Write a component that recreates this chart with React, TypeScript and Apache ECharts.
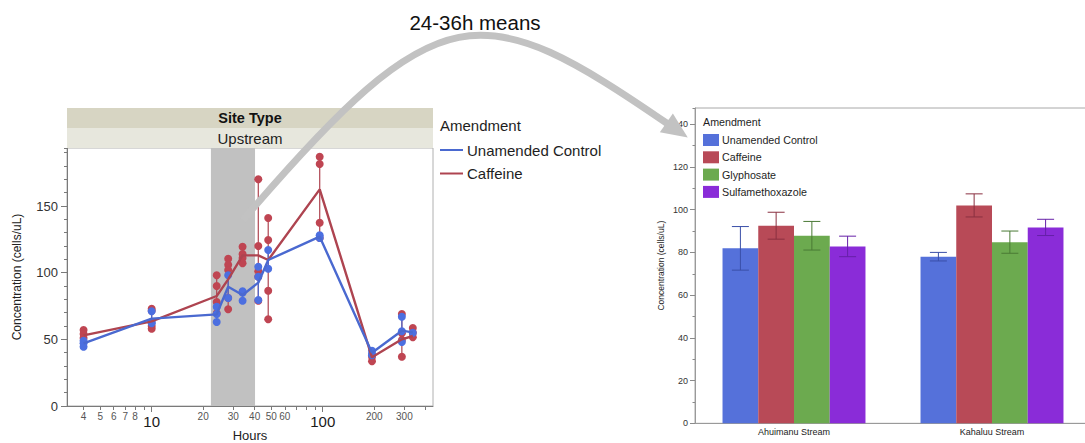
import React, { useEffect, useRef } from "react";
import * as echarts from "echarts";

// ---------- Left panel data (time course, Upstream) ----------
const timeHours = [4, 10, 24, 28, 34, 42, 48, 96, 194, 290, 336];
const controlMeans = [47, 65.5, 68.75, 89.5, 83.25, 92.5, 109.5, 127, 40, 56.5, 55.25];
const caffeineMeans = [53, 63.5, 82.5, 95, 113, 113, 109.5, 162.5, 36.5, 50, 52.5];
const controlPoints = [
  [44.5, 47, 49],
  [71, 63, 62],
  [74.5, 63, 69],
  [98, 81],
  [86, 79, 85],
  [104.5, 97, 79.5],
  [117, 103],
  [128, 126],
  [41.5, 39, 38],
  [67, 56, 48],
  [55],
];
const caffeinePoints = [
  [57, 54, 51],
  [73, 71.5, 60, 58],
  [98, 90, 78, 69.5],
  [110.5, 106, 102, 81, 72.5],
  [119.5, 114, 111, 107],
  [170, 120, 101, 97, 79],
  [141, 124.5, 86.5, 65],
  [187, 181.5, 137.5, 126],
  [37, 33.5],
  [69, 54.5, 49.5, 37],
  [58.5, 55, 51.5],
];
const shadedHours = [22.2, 40.2];
const xTickHours = [4, 5, 6, 7, 8, 9, 10, 20, 30, 40, 50, 60, 70, 80, 90, 100, 200, 300, 400];
const xLabelHours = [4, 5, 6, 7, 8, 10, 20, 30, 40, 50, 60, 100, 200, 300];
const xDecadeHours = [10, 100];
const xRangeHours = [3.2, 441];

// ---------- Right panel data (24-36h means) ----------
const streams = ["Ahuimanu Stream", "Kahaluu Stream"];
const amendments = ["Unamended Control", "Caffeine", "Glyphosate", "Sulfamethoxazole"];
const meanUnamended = [81.9, 78];
const errUnamended = [10.2, 2];
const meanCaffeine = [92.5, 102];
const errCaffeine = [6.3, 5.4];
const meanGlyphosate = [87.8, 84.8];
const errGlyphosate = [6.7, 5.2];
const meanSulfa = [82.8, 91.7];
const errSulfa = [4.8, 3.8];

const FONT = "'Liberation Sans', Arial, Helvetica, sans-serif";
const BLUE_PT = "#4C6FE0";
const BLUE_LN = "#4A69D0";
const RED_PT = "#BF4552";
const RED_LN = "#AE4450";
const barColors = ["#5571DA", "#B84A57", "#6CAA4F", "#8A2CD8"];
const errColors = ["#3A4FA8", "#8A3040", "#4A7A35", "#6620A8"];
const BAR_GAP_RATIO = 0.278;

const lg = (v: number) => Math.log10(v);

export default function App() {
  const ref = useRef<HTMLDivElement>(null);

  useEffect(() => {
    if (!ref.current) return;
    const chart = echarts.init(ref.current, undefined, { renderer: "svg" });

    const ptsData = (pts: number[][]) => {
      const out: number[][] = [];
      pts.forEach((g, i) => g.forEach((v) => out.push([lg(timeHours[i]), v])));
      return out;
    };
    const rangeData = (pts: number[][]) =>
      pts.map((g, i) => [lg(timeHours[i]), Math.min(...g), Math.max(...g)]);

    const rangeSeries = (name: string, pts: number[][], color: string, z: number, withBand: boolean) => ({
      type: "custom",
      name,
      xAxisIndex: 0,
      yAxisIndex: 0,
      z,
      data: rangeData(pts),
      renderItem: (params: any, api: any) => {
        const a = api.coord([api.value(0), api.value(1)]);
        const b = api.coord([api.value(0), api.value(2)]);
        return {
          type: "line",
          shape: { x1: a[0], y1: a[1], x2: b[0], y2: b[1] },
          style: { stroke: color, lineWidth: 1.2 },
        };
      },
      markArea: withBand
        ? {
            silent: true,
            itemStyle: { color: "#C1C1C1", opacity: 1 },
            data: [[{ xAxis: lg(shadedHours[0]) }, { xAxis: lg(shadedHours[1]) }]],
          }
        : undefined,
    });

    const barMeans = [meanUnamended, meanCaffeine, meanGlyphosate, meanSulfa];
    const barErrs = [errUnamended, errCaffeine, errGlyphosate, errSulfa];

    const barSeries = amendments.map((name, i) => ({
      type: "bar",
      name,
      xAxisIndex: 2,
      yAxisIndex: 3,
      barGap: "0%",
      barCategoryGap: BAR_GAP_RATIO * 100 + "%",
      itemStyle: { color: barColors[i] },
      data: barMeans[i],
      z: 2,
    }));

    const errSeries = amendments.map((name, i) => ({
      type: "custom",
      name: name + " error",
      xAxisIndex: 2,
      yAxisIndex: 3,
      z: 5,
      data: streams.map((_, k) => [k, barMeans[i][k], barErrs[i][k]]),
      renderItem: (params: any, api: any) => {
        const cat = api.value(0);
        const m = api.value(1);
        const e = api.value(2);
        const c = api.coord([cat, m]);
        const band = api.size([1, 0])[0];
        const groupW = band * (1 - BAR_GAP_RATIO);
        const bw = groupW / amendments.length;
        const cx = c[0] - groupW / 2 + (i + 0.5) * bw;
        const yt = api.coord([cat, m + e])[1];
        const yb = api.coord([cat, m - e])[1];
        const hw = 8.5;
        const st = { stroke: errColors[i], lineWidth: 1 };
        return {
          type: "group",
          children: [
            { type: "line", shape: { x1: cx, y1: yt, x2: cx, y2: yb }, style: st },
            { type: "line", shape: { x1: cx - hw, y1: yt, x2: cx + hw, y2: yt }, style: st },
            { type: "line", shape: { x1: cx - hw, y1: yb, x2: cx + hw, y2: yb }, style: st },
          ],
        };
      },
    }));

    // arrow geometry
    const P0 = [243, 220], P1 = [440, -10], P2 = [480, -5], P3 = [668, 124];
    const dx = P3[0] - P2[0], dy = P3[1] - P2[1];
    const dl = Math.hypot(dx, dy);
    const ux = dx / dl, uy = dy / dl;
    const bx = P3[0] - 2 * ux, by = P3[1] - 2 * uy;
    const tip = [bx + 26 * ux, by + 26 * uy];
    const hw = 11.5;
    const headPts = [
      [bx - uy * hw, by + ux * hw],
      tip,
      [bx + uy * hw, by - ux * hw],
    ];

    const option: any = {
      animation: false,
      textStyle: { fontFamily: FONT },
      grid: [
        { left: 67, top: 148, width: 366, height: 258, outerBoundsMode: "none", containLabel: false, show: true, borderColor: "#B0B0B0", borderWidth: 1, backgroundColor: "transparent" },
        { left: 695, top: 108, width: 396, height: 315.3, outerBoundsMode: "none", containLabel: false, show: true, borderColor: "#A8A8A8", borderWidth: 1, backgroundColor: "transparent" },
      ],
      xAxis: [
        {
          gridIndex: 0,
          type: "value",
          position: "bottom",
          min: lg(xRangeHours[0]),
          max: lg(xRangeHours[1]),
          splitLine: { show: false },
          axisLine: { show: true, lineStyle: { color: "#7A7A7A" } },
          axisTick: { show: true, customValues: xTickHours.map(lg), length: 4, lineStyle: { color: "#7A7A7A" } },
          axisLabel: {
            customValues: xLabelHours.map(lg),
            margin: 5,
            formatter: (v: number) => {
              const h = Math.round(Math.pow(10, v));
              return xDecadeHours.indexOf(h) >= 0 ? "{big|" + h + "}" : "{small|" + h + "}";
            },
            rich: {
              big: { fontSize: 15, color: "#1A1A1A", fontFamily: FONT, padding: [3, 0, 0, 0] },
              small: { fontSize: 10, color: "#555", fontFamily: FONT },
            },
          },
        },
        {
          gridIndex: 0,
          type: "value",
          position: "bottom",
          min: lg(xRangeHours[0]),
          max: lg(xRangeHours[1]),
          splitLine: { show: false },
          axisLine: { show: false },
          axisTick: { show: true, customValues: xDecadeHours.map(lg), length: 6, lineStyle: { color: "#7A7A7A" } },
          axisLabel: { show: false },
        },
        {
          gridIndex: 1,
          type: "category",
          position: "bottom",
          data: streams,
          axisLine: { show: true, lineStyle: { color: "#9A9A9A" } },
          axisTick: { show: false },
          axisLabel: { fontSize: 9, color: "#222", margin: 4, fontFamily: FONT },
        },
      ],
      yAxis: [
        {
          gridIndex: 0,
          type: "value",
          position: "left",
          min: 0,
          max: 193.5,
          interval: 50,
          splitLine: { show: false },
          axisLine: { show: true, lineStyle: { color: "#7A7A7A" } },
          axisTick: { show: true, length: 6, lineStyle: { color: "#7A7A7A" } },
          axisLabel: { fontSize: 13, color: "#333", margin: 9, fontFamily: FONT, showMaxLabel: false },
          name: "Concentration (cells/uL)",
          nameLocation: "middle",
          nameGap: 44,
          nameTextStyle: { fontSize: 12, color: "#222", fontFamily: FONT },
        },
        {
          gridIndex: 0,
          type: "value",
          position: "left",
          min: 0,
          max: 193.5,
          interval: 10,
          splitLine: { show: false },
          axisLine: { show: false },
          axisTick: { show: true, length: 3, lineStyle: { color: "#7A7A7A" } },
          axisLabel: { show: false },
        },
        {
          gridIndex: 1,
          type: "value",
          position: "left",
          min: 0,
          max: 147.6,
          interval: 10,
          splitLine: { show: false },
          axisLine: { show: false },
          axisTick: { show: true, length: 2.5, lineStyle: { color: "#8A8A8A" } },
          axisLabel: { show: false },
        },
        {
          gridIndex: 1,
          type: "value",
          position: "left",
          min: 0,
          max: 147.6,
          interval: 20,
          splitLine: { show: false },
          axisLine: { show: true, lineStyle: { color: "#9A9A9A" } },
          axisTick: { show: true, length: 5, lineStyle: { color: "#8A8A8A" } },
          axisLabel: { fontSize: 9, color: "#333", margin: 7, fontFamily: FONT, showMaxLabel: false },
          name: "Concentration (cells/uL)",
          nameLocation: "middle",
          nameGap: 30,
          nameTextStyle: { fontSize: 8.5, color: "#222", fontFamily: FONT },
        },
      ],
      legend: [
        {
          orient: "vertical",
          left: 440,
          top: 142.5,
          padding: 0,
          itemGap: 8.5,
          itemWidth: 23,
          itemHeight: 2,
          selectedMode: false,
          textStyle: { fontSize: 15, color: "#1E1E1E", fontFamily: FONT, padding: [0, 0, 0, -1] },
          data: [
            { name: "Unamended Control", icon: "rect", itemStyle: { color: BLUE_LN } },
            { name: "Caffeine", icon: "rect", itemStyle: { color: RED_LN } },
          ],
        },
        {
          orient: "vertical",
          left: 703,
          top: 134,
          padding: 0,
          itemGap: 5.3,
          itemWidth: 16,
          itemHeight: 12,
          selectedMode: false,
          textStyle: { fontSize: 10.7, color: "#1E1E1E", fontFamily: FONT, padding: [0, 0, 0, -2] },
          data: amendments.map((n, i) => ({ name: n, icon: "rect", itemStyle: { color: barColors[i] } })),
        },
      ],
      series: [
        rangeSeries("Caffeine range", caffeinePoints, RED_LN, 1, true),
        rangeSeries("Control range", controlPoints, BLUE_LN, 1, false),
        {
          type: "scatter",
          name: "Caffeine",
          xAxisIndex: 0,
          yAxisIndex: 0,
          symbolSize: 8,
          itemStyle: { color: RED_PT, opacity: 1 },
          data: ptsData(caffeinePoints),
          z: 3,
        },
        {
          type: "scatter",
          name: "Unamended Control",
          xAxisIndex: 0,
          yAxisIndex: 0,
          symbolSize: 8,
          itemStyle: { color: BLUE_PT, opacity: 1 },
          data: ptsData(controlPoints),
          z: 4,
        },
        {
          type: "line",
          name: "Caffeine",
          xAxisIndex: 0,
          yAxisIndex: 0,
          showSymbol: false,
          symbol: "none",
          lineStyle: { color: RED_LN, width: 2.4 },
          itemStyle: { color: RED_LN },
          data: timeHours.map((t, i) => [lg(t), caffeineMeans[i]]),
          z: 5,
        },
        {
          type: "line",
          name: "Unamended Control",
          xAxisIndex: 0,
          yAxisIndex: 0,
          showSymbol: false,
          symbol: "none",
          lineStyle: { color: BLUE_LN, width: 2.4 },
          itemStyle: { color: BLUE_LN },
          data: timeHours.map((t, i) => [lg(t), controlMeans[i]]),
          z: 6,
        },
        ...barSeries,
        ...errSeries,
      ],
      graphic: [
        { type: "rect", shape: { x: 67, y: 108, width: 366, height: 20 }, style: { fill: "#D7D5C3" }, z: 1 },
        { type: "rect", shape: { x: 67, y: 128, width: 366, height: 20 }, style: { fill: "#E7E7DD" }, z: 1 },
        {
          type: "text",
          x: 250,
          y: 118,
          z: 2,
          style: { text: "Site Type", fontSize: 14.5, fontWeight: "bold", fill: "#111", align: "center", verticalAlign: "middle", fontFamily: FONT },
        },
        {
          type: "text",
          x: 250,
          y: 138.5,
          z: 2,
          style: { text: "Upstream", fontSize: 15, fill: "#1E1E1E", align: "center", verticalAlign: "middle", fontFamily: FONT },
        },
        {
          type: "text",
          x: 250,
          y: 435.5,
          style: { text: "Hours", fontSize: 13, fill: "#222", align: "center", verticalAlign: "middle", fontFamily: FONT },
        },
        {
          type: "text",
          x: 440,
          y: 125,
          style: { text: "Amendment", fontSize: 15, fill: "#1E1E1E", align: "left", verticalAlign: "middle", fontFamily: FONT },
        },
        {
          type: "text",
          x: 703,
          y: 121.7,
          style: { text: "Amendment", fontSize: 10.7, fill: "#1E1E1E", align: "left", verticalAlign: "middle", fontFamily: FONT },
        },
        {
          type: "text",
          x: 475,
          y: 22,
          style: { text: "24-36h means", fontSize: 20.5, fill: "#111", align: "center", verticalAlign: "middle", fontFamily: FONT },
        },
        {
          type: "bezierCurve",
          z: 100,
          shape: { x1: P0[0], y1: P0[1], cpx1: P1[0], cpy1: P1[1], cpx2: P2[0], cpy2: P2[1], x2: P3[0], y2: P3[1] },
          style: { stroke: "#C2C2C2", lineWidth: 7, fill: null },
        },
        {
          type: "polygon",
          z: 100,
          shape: { points: headPts },
          style: { fill: "#C2C2C2" },
        },
      ],
    };

    chart.setOption(option);
    return () => chart.dispose();
  }, []);

  return (
    <div
      ref={ref}
      style={{ position: "absolute", left: 0, top: 0, width: 1085, height: 443, background: "#fff" }}
    />
  );
}
